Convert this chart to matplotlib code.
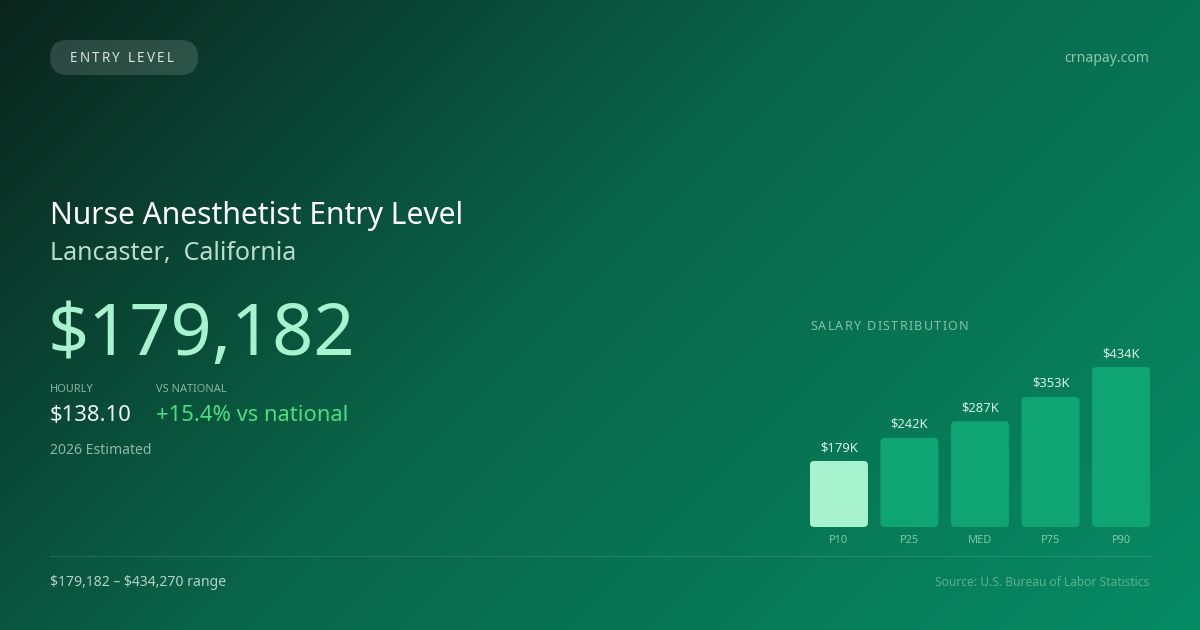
import numpy as np
import matplotlib
matplotlib.use("Agg")
from matplotlib import pyplot as plt
from matplotlib.patches import FancyBboxPatch

plt.rcParams['font.family'] = ['Noto Sans', 'DejaVu Sans']
plt.rcParams['text.parse_math'] = False

# 数据
percentiles = ["P10", "P25", "MED", "P75", "P90"]
salaries = [179182, 242000, 287000, 353000, 434270]
bar_labels = ["$179K", "$242K", "$287K", "$353K", "$434K"]

title = "Nurse Anesthetist Entry Level"
location = "Lancaster,  California"
badge = "ENTRY LEVEL"
annual = "$179,182"
hourly = "$138.10"
vs_national = "+15.4% vs national"
year_note = "2026 Estimated"
range_note = "$179,182 – $434,270 range"
source_note = "Source: U.S. Bureau of Labor Statistics"
site = "crnapay.com"

W, H = 1200, 630
PT = 0.72  # px -> pt


def spaced(ax, x, y, s, size, color, gap):
    # 逐字绘制，模拟 letter-spacing
    r = ax.figure.canvas.get_renderer()
    for ch in s:
        t = ax.text(x, y, ch, fontsize=size * PT, color=color, va='baseline', ha='left')
        if ch == " ":
            w = size * 0.26
        else:
            w = t.get_window_extent(renderer=r).width
        x += w + gap


fig = plt.figure(figsize=(12, 6.3), dpi=100)

# 背景渐变 (135deg)
bg = fig.add_axes([0, 0, 1, 1])
yy, xx = np.mgrid[0:H, 0:W]
t = ((xx - 600) + (yy - 315)) / 1830 + 0.5
stops = [0.0, 0.45, 1.0]
cols = np.array([[11, 36, 28], [9, 100, 72], [6, 140, 100]]) / 255
img = np.stack([np.interp(t, stops, cols[:, k]) for k in range(3)], axis=-1)
bg.imshow(img, extent=[0, W, H, 0], aspect='auto')
bg.set_xlim(0, W)
bg.set_ylim(H, 0)
bg.axis('off')

# 顶部徽章
bg.add_patch(FancyBboxPatch((50, 40), 148, 35, boxstyle="round,pad=0,rounding_size=17.5",
                            fc=(1, 1, 1, 0.14), ec='none'))
spaced(bg, 70, 62.5, badge, 13.5, '#d6e6de', 2.2)
bg.text(1149, 62.5, site, fontsize=14 * PT, color='#8fc7ad', ha='right', va='baseline')

# 标题区
bg.text(50, 224, title, fontsize=30 * PT, color='#ffffff', va='baseline')
bg.text(50, 260, location, fontsize=25 * PT, color='#b9dccb', va='baseline')
bg.text(47, 355, annual, fontsize=72 * PT, color='#a7f3d0', va='baseline')

bg.text(50, 392, "HOURLY", fontsize=11 * PT, color='#88b5a1', va='baseline')
bg.text(156, 392, "VS NATIONAL", fontsize=11 * PT, color='#88b5a1', va='baseline')
bg.text(50, 421, hourly, fontsize=22 * PT, color='#f0f7f3', va='baseline')
bg.text(156, 421, vs_national, fontsize=22 * PT, color='#4ade80', va='baseline')
bg.text(50, 454, year_note, fontsize=14 * PT, color='#8cb9a5', va='baseline')

# 分隔线与底部
bg.plot([50, 1150], [556, 556], color=(1, 1, 1, 0.1), lw=1)
bg.text(50, 586, range_note, fontsize=14 * PT, color='#b3d2c4', va='baseline')
bg.text(1149, 586, source_note, fontsize=12 * PT, color='#5fb08e', ha='right', va='baseline')

spaced(bg, 810, 330, "SALARY DISTRIBUTION", 12.5, '#86c2a8', 1.3)

# 柱状图
pitch = 70.5
ax_h = 220
ymax = max(salaries) * ax_h / 160
ax = fig.add_axes([810 / W, (H - 527) / H, 340 / W, ax_h / H])
ax.set_xlim(-0.41, len(salaries) - 1 + 0.41)
ax.set_ylim(0, ymax)
ax.axis('off')

x = np.arange(len(salaries))
bars = ax.bar(x, salaries, width=58 / pitch)
ma = (ymax / ax_h) / (1 / pitch)
for i, b in enumerate(bars):
    bx, bw, bh = b.get_x(), b.get_width(), b.get_height()
    b.remove()
    fc = '#a7f3d0' if i == 0 else '#0ea572'
    ax.add_patch(FancyBboxPatch((bx, 0), bw, bh, boxstyle="round,pad=0,rounding_size=0.06",
                                mutation_aspect=ma, fc=fc, ec='none'))
    ax.annotate(bar_labels[i], (x[i], bh), xytext=(0, 5), textcoords='offset points',
                ha='center', va='bottom', fontsize=13 * PT, color='#d6f2e4')
    ax.annotate(percentiles[i], (x[i], 0), xytext=(0, -5.5), textcoords='offset points',
                ha='center', va='top', fontsize=11 * PT, color='#7fcaa6', annotation_clip=False)

fig.savefig("out.png", dpi=100)
